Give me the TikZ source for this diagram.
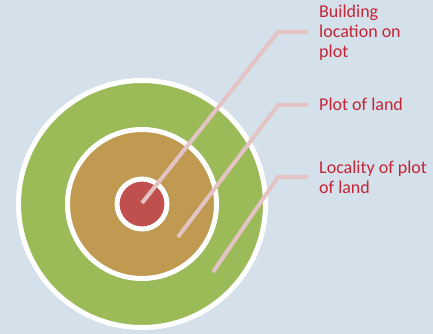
\documentclass[tikz,border=0pt]{standalone}
\usepackage{fontspec}
\setmainfont{Carlito}
\definecolor{bgc}{HTML}{D4E1EA}
\definecolor{greenc}{HTML}{9BBB59}
\definecolor{brownc}{HTML}{BF9A50}
\definecolor{redc}{HTML}{C0504D}
\definecolor{linec}{HTML}{E4C3C4}
\definecolor{textc}{HTML}{C42536}
\begin{document}
\begin{tikzpicture}[x=1pt,y=-1pt,
  ring/.style={circle,draw=white,line width=5pt,inner sep=0pt},
  leader/.style={draw=linec,line width=4pt,line join=miter},
  lbl/.style={anchor=north west,inner sep=0pt,align=left,text=textc,
    font=\fontsize{18pt}{20pt}\selectfont}]
\fill[bgc] (0,0) rectangle (433,334);
\useasboundingbox (0,0) rectangle (433,334);
\node[ring,fill=greenc,minimum size=247pt] (outer) at (142,204) {};
\node[ring,fill=brownc,minimum size=149pt] (middle) at (142,204) {};
\node[ring,fill=redc,minimum size=50pt] (inner) at (142,204) {};
\coordinate (e1) at (142,203);
\coordinate (k1) at (278,32);
\coordinate (h1) at (308,32);
\coordinate (e2) at (178,237);
\coordinate (k2) at (278,105);
\coordinate (h2) at (308,105);
\coordinate (e3) at (213,272);
\coordinate (k3) at (278,177);
\coordinate (h3) at (308,177);
\draw[leader] (e1) -- (k1) -- (h1);
\draw[leader] (e2) -- (k2) -- (h2);
\draw[leader] (e3) -- (k3) -- (h3);
\node[lbl] (t1) at (319,5) {Building\\location on\\plot};
\node[lbl] (t2) at (319,98) {Plot of land};
\node[lbl] (t3) at (319,161) {Locality of plot\\of land};
\end{tikzpicture}
\end{document}
